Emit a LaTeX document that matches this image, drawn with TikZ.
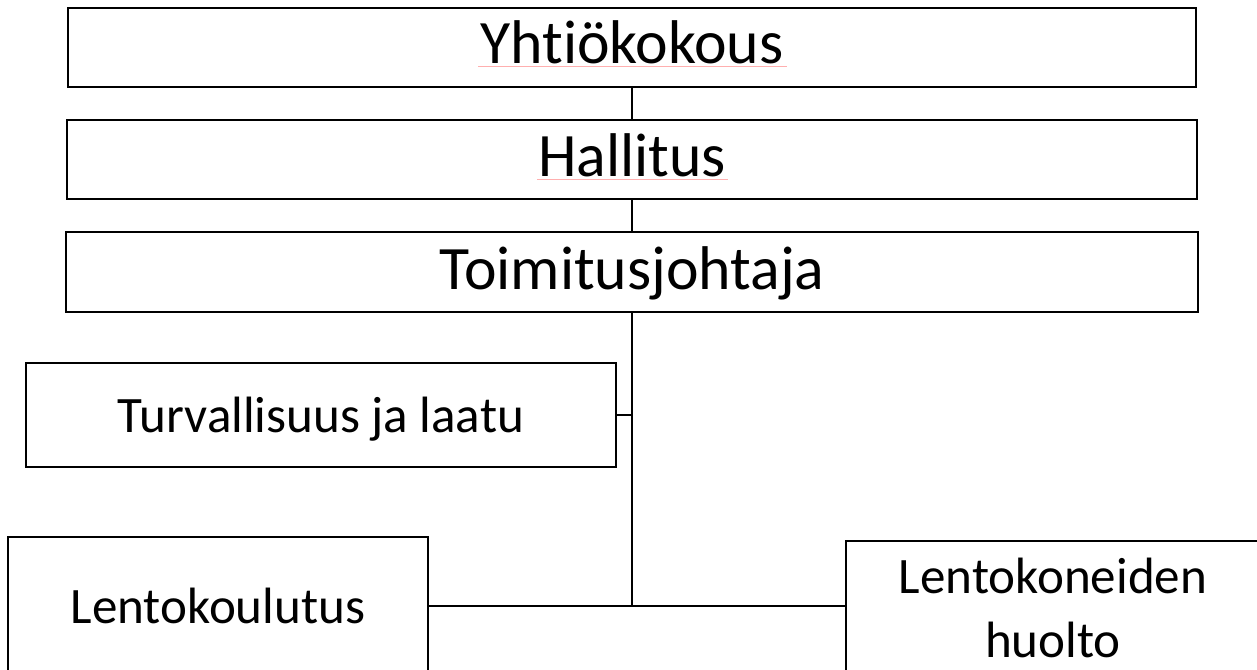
\documentclass[tikz,border=0pt]{standalone}
\usepackage{fontspec}
\setmainfont{Carlito}[Ligatures=NoCommon]
\usetikzlibrary{fit,calc}
\begin{document}
\begin{tikzpicture}[x=0.75pt,y=-0.75pt,
  box/.style={draw=black,line width=1.95pt,inner sep=0pt,fill=none},
  conn/.style={draw=black,line width=1.5pt},
  bigtxt/.style={inner sep=0pt,anchor=base,font=\fontsize{46.3}{50}\selectfont},
  smalltxt/.style={inner sep=0pt,anchor=base,font=\fontsize{38.3}{42}\selectfont},
  spell/.style={draw={rgb,255:red,255;green,175;blue,175},line width=0.7pt}]
\useasboundingbox (0,0) rectangle (1257,670);
% boxes
\node[box,fit={(68,8)(1196,87)}] (b1) {};
\node[box,fit={(67,120)(1197,199)}] (b2) {};
\node[box,fit={(66,232)(1198,312)}] (b3) {};
\node[box,fit={(26,363)(616,467)}] (b4) {};
\node[box,fit={(8,537)(428,675)}] (b5) {};
\node[box,fit={(846,541)(1262,680)}] (b6) {};
% spell-check underlines (drawn first, under the text)
\coordinate (u1a) at (478,66.5);
\coordinate (u1b) at (787,66.5);
\coordinate (u2a) at (537,179);
\coordinate (u2b) at (728,179);
\draw[spell] (u1a) -- (u1b);
\draw[spell] (u2a) -- (u2b);
% texts
\node[bigtxt] (t1) at (632,64) {Yhtiökokous};
\node[bigtxt] (t2) at (632,177) {Hallitus};
\node[bigtxt] (t3) at (632,290) {Toimitusjohtaja};
\node[smalltxt] (t4) at (321,432) {Turvallisuus ja laatu};
\node[smalltxt] (t5) at (218,623) {Lentokoulutus};
\node[smalltxt] (t6) at (1053,593) {Lentokoneiden};
\node[smalltxt] (t7) at (1053,657) {huolto};
% connectors
\coordinate (j) at (632,606);
\draw[conn] (b1.south) -- (b2.north);
\draw[conn] (b2.south) -- (b3.north);
\draw[conn] (b3.south) -- (j);
\draw[conn] (b4.east) -- (b4.east -| j);
\draw[conn] (b5.east |- j) -- (b6.west |- j);
\end{tikzpicture}
\end{document}
